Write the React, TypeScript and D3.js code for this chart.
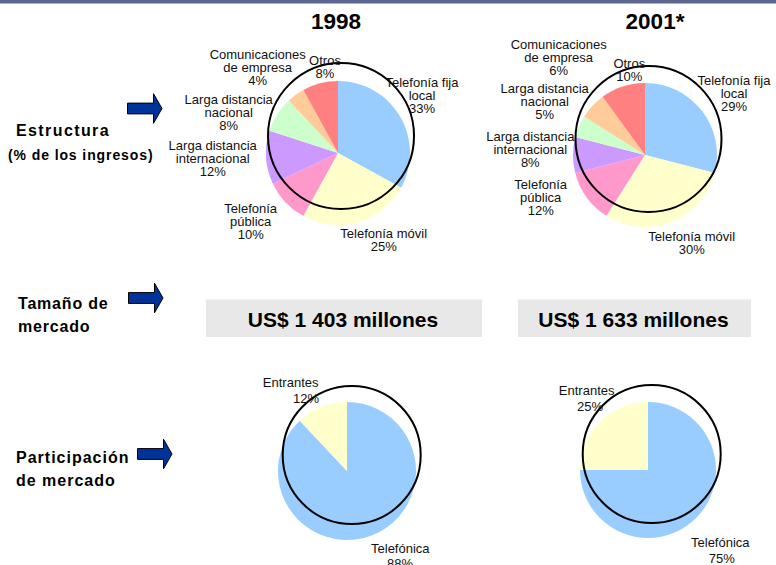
import React from "react";
import * as d3 from "d3";

// ---------- Data ----------
const years = ["1998", "2001*"];
const segmentNames = [
  "Telefonía fija local",
  "Telefonía móvil",
  "Telefonía pública",
  "Larga distancia internacional",
  "Larga distancia nacional",
  "Comunicaciones de empresa",
  "Otros",
];
const segmentLines = [
  ["Telefonía fija", "local"],
  ["Telefonía móvil"],
  ["Telefonía", "pública"],
  ["Larga distancia", "internacional"],
  ["Larga distancia", "nacional"],
  ["Comunicaciones", "de empresa"],
  ["Otros"],
];
const revenueShare1998 = [33, 25, 10, 12, 8, 4, 8];
const revenueShare2001 = [29, 30, 12, 8, 5, 6, 10];
const marketSizeMillions = [1403, 1633];
const operators = ["Telefónica", "Entrantes"];
const operatorShare1998 = [88, 12];
const operatorShare2001 = [75, 25];
const rowLabels = [["Estructura"], ["Tamaño de", "mercado"], ["Participación", "de mercado"]];
const rowSubLabel = "(% de los ingresos)";

// ---------- Styles / layout ----------
const segmentColors = ["#99CCFF", "#FFFFCC", "#FF99CC", "#CC99FF", "#CCFFCC", "#FFCC99", "#FF8080"];
const operatorColors = ["#99CCFF", "#FFFFCC"];
const FONT = "'Liberation Sans', Arial, Helvetica, sans-serif";

const structLayout = [
  {
    cx: 338, cy: 153, r: 72, ring: { cx: 341, cy: 136, r: 73 },
    labels: [[422, 82.2], [383.7, 233.3], [250.7, 208], [212.7, 145], [228.7, 99], [257.7, 54.6], [325, 60]],
  },
  {
    cx: 645, cy: 155, r: 72, ring: { cx: 648.5, cy: 139, r: 73 },
    labels: [[734, 80], [691.7, 236.2], [540.7, 184], [530.3, 136.2], [544.7, 88], [558.7, 44.6], [629.3, 63.3]],
  },
];
const shareLayout = [
  {
    cx: 347, cy: 471, r: 69, ring: { cx: 351.7, cy: 455, r: 69 },
    labels: [[[400.3, 548.3], [400, 563.8]], [[290.7, 382.7], [306, 398.5]]],
  },
  {
    cx: 648, cy: 470, r: 68, ring: { cx: 651.7, cy: 454, r: 69 },
    labels: [[[720.3, 542.7], [721.7, 558.3]], [[586.7, 390.7], [590, 406]]],
  },
];

function Arrow({ x, y }: { x: number; y: number }) {
  // x = left, y = vertical center
  const bodyLen = 26, headLen = 8.5, bodyH = 5.4, headH = 14.8;
  const p = [
    [x, y - bodyH], [x + bodyLen, y - bodyH], [x + bodyLen, y - headH],
    [x + bodyLen + headLen, y], [x + bodyLen, y + headH], [x + bodyLen, y + bodyH], [x, y + bodyH],
  ];
  return <path d={d3.line()(p as [number, number][]) + "Z"} fill="#003399" stroke="#000" strokeWidth={1} />;
}

function PieGroup({ values, colors, cx, cy, r }: { values: number[]; colors: string[]; cx: number; cy: number; r: number }) {
  const pie = d3.pie<number>().sort(null).value((d) => d).startAngle(0).endAngle(2 * Math.PI);
  const arc = d3.arc<d3.PieArcDatum<number>>().innerRadius(0).outerRadius(r);
  return (
    <g transform={`translate(${cx},${cy})`}>
      {pie(values).map((a, i) => (
        <path key={i} d={arc(a) || ""} fill={colors[i]} />
      ))}
    </g>
  );
}

export default function App() {
  const structData = [revenueShare1998, revenueShare2001];
  const shareData = [operatorShare1998, operatorShare2001];
  const fmtMoney = (v: number) => `US$ ${d3.format(",")(v).replace(/,/g, " ")} millones`;
  const smallLine = 13;
  return (
    <svg width={776} height={565} style={{ position: "absolute", left: 0, top: 0 }} fontFamily={FONT}>
      <rect x={0} y={0} width={776} height={565} fill="#fff" />
      <rect x={0} y={0} width={776} height={3.5} fill="#5B6690" />

      {/* Year titles */}
      {years.map((y, i) => (
        <text key={y} x={[336, 655][i]} y={29} textAnchor="middle" fontSize={22.5} fontWeight="bold" fill="#000">
          {y}
        </text>
      ))}

      {/* Row labels */}
      <text x={16} y={136} fontSize={16} fontWeight="bold" letterSpacing={1.4}>{rowLabels[0][0]}</text>
      <text x={8} y={160} fontSize={14} fontWeight="bold" letterSpacing={0.9}>{rowSubLabel}</text>
      {rowLabels[1].map((t, i) => (
        <text key={t} x={18} y={309 + i * 23} fontSize={16} fontWeight="bold" letterSpacing={0.8}>{t}</text>
      ))}
      {rowLabels[2].map((t, i) => (
        <text key={t} x={16} y={463 + i * 23} fontSize={16} fontWeight="bold" letterSpacing={1}>{t}</text>
      ))}
      <Arrow x={127.5} y={108.5} />
      <Arrow x={128.5} y={298} />
      <Arrow x={137.5} y={454} />

      {/* Structure pies */}
      {structLayout.map((L, k) => (
        <g key={k}>
          <PieGroup values={structData[k]} colors={segmentColors} cx={L.cx} cy={L.cy} r={L.r} />
          <circle cx={L.ring.cx} cy={L.ring.cy} r={L.ring.r} fill="none" stroke="#000" strokeWidth={2} />
          {segmentNames.map((name, i) => {
            const lines = [...segmentLines[i], `${structData[k][i]}%`];
            const [lx, ly] = L.labels[i];
            return (
              <text key={name} x={lx} y={ly} textAnchor="middle" fontSize={13} fill="#111">
                {lines.map((t, j) => (
                  <tspan key={j} x={lx} y={ly + j * smallLine} dy="0.35em">{t}</tspan>
                ))}
              </text>
            );
          })}
        </g>
      ))}

      {/* Market size boxes */}
      {marketSizeMillions.map((v, i) => {
        const bx = [206, 518][i], bw = [276, 233][i];
        return (
          <g key={v}>
            <rect x={bx} y={299.5} width={bw} height={37.5} fill="#E8E8E8" />
            <text x={bx + bw / 2 - 1} y={326.5} textAnchor="middle" fontSize={21} fontWeight="bold" fill="#000">
              {fmtMoney(v)}
            </text>
          </g>
        );
      })}

      {/* Market share pies */}
      {shareLayout.map((L, k) => (
        <g key={k}>
          <PieGroup values={shareData[k]} colors={operatorColors} cx={L.cx} cy={L.cy} r={L.r} />
          <circle cx={L.ring.cx} cy={L.ring.cy} r={L.ring.r} fill="none" stroke="#000" strokeWidth={2} />
          {operators.map((op, i) => {
            const [[x1, y1], [x2, y2]] = L.labels[i];
            return (
              <g key={op} fontSize={13} fill="#111" textAnchor="middle">
                <text x={x1} y={y1} dy="0.35em">{op}</text>
                <text x={x2} y={y2} dy="0.35em">{`${shareData[k][i]}%`}</text>
              </g>
            );
          })}
        </g>
      ))}
    </svg>
  );
}
